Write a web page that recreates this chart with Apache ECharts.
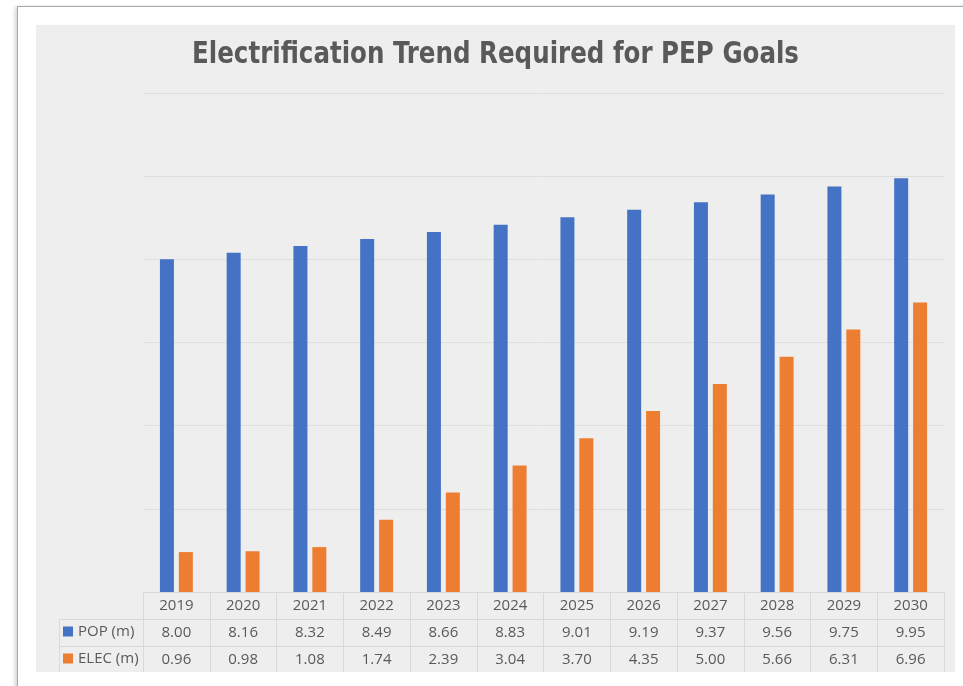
<!DOCTYPE html>
<html>
<head>
<meta charset="utf-8">
<title>Electrification Trend Required for PEP Goals</title>
<script src="https://cdn.jsdelivr.net/npm/echarts@6/dist/echarts.min.js"></script>
<style>
  html, body { margin: 0; padding: 0; background: #ffffff; width: 963px; height: 686px; overflow: hidden; }
  #frame {
    position: absolute; left: 17px; top: 6px; width: 1000px; height: 1000px;
    border: 1px solid #a9a9a9; background: #ffffff;
    box-shadow: -2px 1px 4px rgba(0,0,0,0.18);
  }
  #chart { position: absolute; left: 36px; top: 25px; width: 919px; height: 647px; }
</style>
</head>
<body>
<div id="frame"></div>
<div id="chart"></div>
<script>
// Years shown along the category axis / table header
const years = ['2019', '2020', '2021', '2022', '2023', '2024', '2025', '2026', '2027', '2028', '2029', '2030'];
// Population (millions)
const popValues = [8.00, 8.16, 8.32, 8.49, 8.66, 8.83, 9.01, 9.19, 9.37, 9.56, 9.75, 9.95];
// Electrified population (millions)
const elecValues = [0.96, 0.98, 1.08, 1.74, 2.39, 3.04, 3.70, 4.35, 5.00, 5.66, 6.31, 6.96];
const seriesNames = ['POP (m)', 'ELEC (m)'];
const chartTitle = 'Electrification Trend Required for PEP Goals';

const TEXT = '#595959';
const RULE = '#d9d9d9';
const FONT = "'Open Sans', 'Liberation Sans', sans-serif";

const chartEl = document.getElementById('chart');
const chart = echarts.init(chartEl, null, { renderer: 'canvas' });

// Table rows below the plot are built from stacked category axes
function tableAxis(offset, values, showLine) {
  return {
    type: 'category',
    data: years,
    gridIndex: 0,
    position: 'bottom',
    offset: offset,
    axisLine: { show: showLine, lineStyle: { color: RULE, width: 1 } },
    axisTick: { show: false },
    axisLabel: {
      show: !!values,
      margin: 6,
      color: TEXT,
      fontSize: 15,
      fontFamily: FONT,
      formatter: function (v, i) { return values ? values[i].toFixed(2) : ''; }
    },
    splitLine: { show: false }
  };
}

chart.setOption({
  backgroundColor: '#eeeeee',
  animation: false,
  legend: {
    data: seriesNames,
    orient: 'vertical',
    left: 27,
    top: 598,
    padding: 0,
    itemWidth: 10,
    itemHeight: 10,
    itemGap: 10,
    icon: 'rect',
    textStyle: { color: TEXT, fontSize: 15, fontFamily: FONT, lineHeight: 17 }
  },
  grid: { left: 107, right: 11, top: 68, bottom: 80, containLabel: false },
  xAxis: [
    {
      type: 'category',
      data: years,
      position: 'bottom',
      axisLine: { show: true, lineStyle: { color: RULE, width: 1 } },
      axisTick: { show: true, length: 80, lineStyle: { color: RULE, width: 1 } },
      axisLabel: { margin: 6, color: TEXT, fontSize: 15, fontFamily: FONT },
      splitLine: { show: false }
    },
    tableAxis(27, popValues, true),
    tableAxis(54, elecValues, true),
    tableAxis(80, null, true)
  ],
  yAxis: {
    type: 'value',
    min: 0,
    max: 12,
    interval: 2,
    axisLine: { show: false },
    axisTick: { show: false },
    axisLabel: { show: false },
    splitLine: { show: true, lineStyle: { color: '#dedede', width: 1 } }
  },
  series: [
    {
      name: seriesNames[0],
      type: 'bar',
      xAxisIndex: 0,
      data: popValues,
      barWidth: 14,
      barGap: '35%',
      itemStyle: { color: '#4472c4' }
    },
    {
      name: seriesNames[1],
      type: 'bar',
      xAxisIndex: 0,
      data: elecValues,
      barWidth: 14,
      barGap: '35%',
      itemStyle: { color: '#ed7d31' }
    }
  ],
  graphic: [
    // Condensed bold heading, centred over the panel
    {
      type: 'text',
      x: chartEl.clientWidth / 2,
      y: 14,
      scaleX: 0.88,
      silent: true,
      style: {
        text: chartTitle,
        textAlign: 'center',
        textVerticalAlign: 'top',
        fill: TEXT,
        fontSize: 31,
        fontWeight: 'bold',
        fontFamily: "'DejaVu Sans Condensed', 'DejaVu Sans', sans-serif"
      }
    },
    // Borders of the legend cells to the left of the table
    { type: 'line', shape: { x1: 23, y1: 594.5, x2: 107, y2: 594.5 }, style: { stroke: RULE, lineWidth: 1 }, silent: true },
    { type: 'line', shape: { x1: 23, y1: 621.5, x2: 107, y2: 621.5 }, style: { stroke: RULE, lineWidth: 1 }, silent: true },
    { type: 'line', shape: { x1: 23.5, y1: 594, x2: 23.5, y2: 647 }, style: { stroke: RULE, lineWidth: 1 }, silent: true }
  ]
});
</script>
</body>
</html>
